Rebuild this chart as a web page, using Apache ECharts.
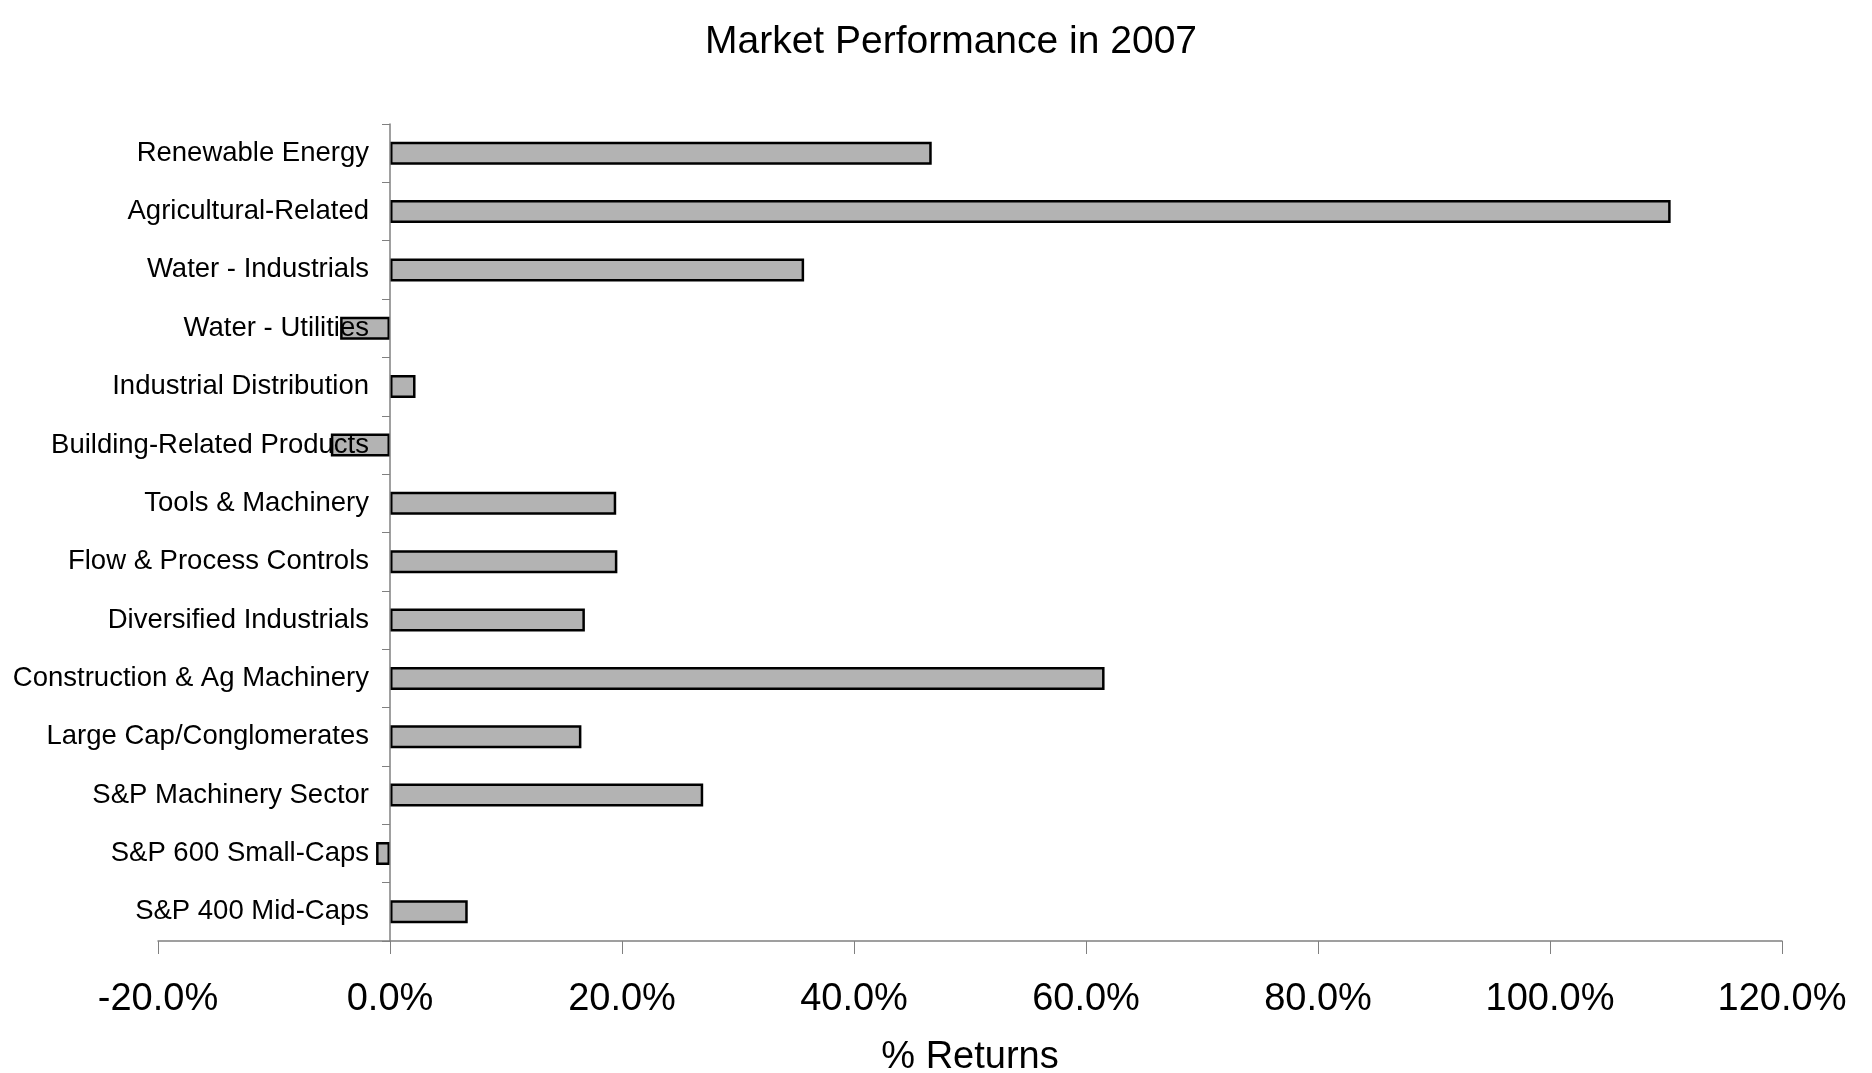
<!DOCTYPE html>
<html>
<head>
<meta charset="utf-8">
<title>Market Performance in 2007</title>
<script src="https://cdn.jsdelivr.net/npm/echarts@6/dist/echarts.min.js"></script>
<style>
  html, body { margin: 0; padding: 0; background: #fff; }
  #chart { width: 1872px; height: 1073px; }
</style>
</head>
<body>
<div id="chart"></div>
<script>
// sectors, top to bottom
var sectors = [
    "Renewable Energy",
    "Agricultural-Related",
    "Water - Industrials",
    "Water - Utilities",
    "Industrial Distribution",
    "Building-Related Products",
    "Tools & Machinery",
    "Flow & Process Controls",
    "Diversified Industrials",
    "Construction & Ag Machinery",
    "Large Cap/Conglomerates",
    "S&P Machinery Sector",
    "S&P 600 Small-Caps",
    "S&P 400 Mid-Caps"
];

// % returns in 2007
var returns2007 = [46.7, 110.4, 35.7, -4.3, 2.2, -5.1, 19.5, 19.6, 16.8, 61.6, 16.5, 27.0, -1.2, 6.7];

var xMin = -20, xMax = 120, xStep = 20;

var font = "'Liberation Sans', Arial, sans-serif";

var gridLeft = 158, gridRight = 90;
var chartW = 1872;

// the category axis sits on the 0% line, labels and ticks too
var plotW = chartW - gridLeft - gridRight;
var zeroShift = (0 - xMin) / (xMax - xMin) * plotW;

var chart = echarts.init(document.getElementById("chart"));

var option = {
    backgroundColor: "#fff",
    animation: false,
    title: {
        text: "Market Performance in 2007",
        left: 946,
        top: 18,
        textAlign: "center",
        textStyle: { fontFamily: font, fontSize: 39, fontWeight: "normal", color: "#000" }
    },
    grid: {
        left: gridLeft,
        right: gridRight,
        top: 124,
        bottom: 132,
        containLabel: false,
        outerBoundsMode: "none"
    },
    xAxis: {
        type: "value",
        min: xMin,
        max: xMax,
        interval: xStep,
        name: "% Returns",
        nameLocation: "middle",
        nameGap: 98,
        nameTextStyle: { fontFamily: font, fontSize: 38, color: "#000" },
        axisLine: { show: true, lineStyle: { color: "#808080", width: 1.5 } },
        axisTick: { show: true, length: 13, lineStyle: { color: "#808080" } },
        axisLabel: {
            margin: 40,
            fontFamily: font,
            fontSize: 38,
            color: "#000",
            formatter: function (v) { return v.toFixed(1) + "%"; }
        },
        splitLine: { show: false }
    },
    yAxis: {
        type: "category",
        data: sectors,
        inverse: true,
        z: 5,
        offset: -zeroShift,
        axisLine: { show: true, onZero: false, lineStyle: { color: "#808080", width: 1.5 } },
        axisTick: { show: true, length: 8, lineStyle: { color: "#808080" } },
        axisLabel: {
            margin: 21,
            padding: [5, 0, 0, 0],
            fontFamily: font,
            fontSize: 27.5,
            color: "#000"
        },
        splitLine: { show: false }
    },
    series: [{
        type: "bar",
        data: returns2007,
        barWidth: 23,
        itemStyle: {
            color: "#b3b3b3",
            borderColor: "#000",
            borderWidth: 2.5
        }
    }]
};

chart.setOption(option);
</script>
</body>
</html>
